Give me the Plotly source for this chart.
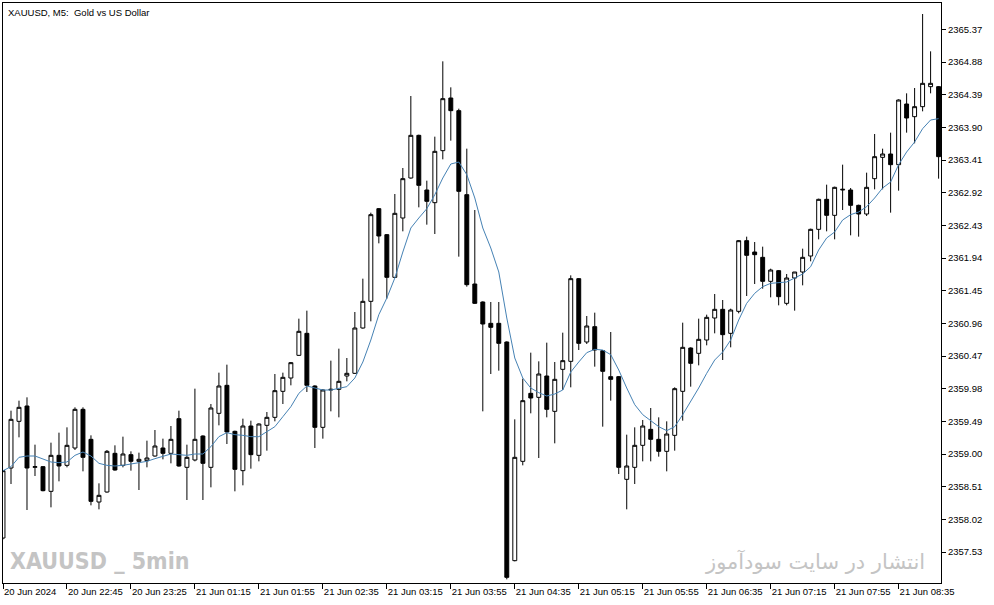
import plotly.graph_objects as go

# 5 minute bars
opens = [2357.74, 2358.79, 2359.49, 2359.72, 2358.80, 2358.81, 2358.44, 2358.98, 2358.83, 2359.09,
         2359.67, 2359.22, 2358.28, 2358.43, 2359.01, 2358.83, 2358.99, 2358.89, 2358.90, 2358.97,
         2359.09, 2359.01, 2359.53, 2358.80, 2358.91, 2359.27, 2358.80, 2359.61, 2360.03, 2359.34,
         2358.75, 2359.42, 2358.98, 2359.43, 2359.55, 2359.94, 2360.14, 2360.48, 2360.81, 2360.02,
         2359.40, 2359.96, 2359.97, 2360.17, 2360.21, 2360.89, 2361.29, 2362.68, 2362.29, 2361.65,
         2362.54, 2363.14, 2363.78, 2362.96, 2362.77, 2363.55, 2364.34, 2364.15, 2362.89, 2361.55,
         2361.28, 2360.96, 2360.96, 2360.68, 2357.40, 2358.89, 2359.91, 2359.85, 2360.17, 2359.64,
         2360.27, 2360.39, 2361.63, 2360.68, 2360.91, 2360.55, 2360.16, 2360.16, 2358.62, 2358.80,
         2359.13, 2359.37, 2359.22, 2359.04, 2359.28, 2359.94, 2360.59, 2360.51, 2360.71, 2361.04,
         2361.17, 2360.81, 2361.14, 2362.20, 2362.03, 2361.95, 2361.59, 2361.75, 2361.26, 2361.64,
         2361.73, 2361.97, 2362.37, 2362.82, 2362.58, 2362.96, 2362.96, 2362.73, 2362.60, 2363.13,
         2363.45, 2363.50, 2363.34, 2364.25, 2364.06, 2364.21, 2364.51, 2364.51]
highs = [2358.76, 2359.65, 2359.80, 2359.85, 2359.14, 2358.82, 2359.17, 2359.32, 2359.40, 2359.70,
         2359.70, 2359.28, 2358.56, 2359.06, 2359.13, 2359.26, 2359.04, 2359.02, 2359.20, 2359.36,
         2359.23, 2359.42, 2359.65, 2359.14, 2359.98, 2359.28, 2359.75, 2360.22, 2360.34, 2359.35,
         2359.53, 2359.50, 2359.46, 2359.63, 2360.20, 2360.22, 2360.38, 2361.03, 2361.15, 2360.03,
         2359.97, 2360.40, 2360.58, 2360.44, 2361.13, 2361.63, 2362.62, 2362.69, 2362.30, 2362.90,
         2363.29, 2364.37, 2363.79, 2363.10, 2363.76, 2364.89, 2364.50, 2364.18, 2363.58, 2362.66,
         2361.29, 2361.28, 2361.28, 2360.69, 2359.52, 2360.13, 2360.52, 2360.39, 2360.67, 2360.38,
         2360.82, 2361.68, 2361.64, 2361.07, 2361.12, 2360.56, 2360.83, 2360.17, 2359.29, 2359.40,
         2359.51, 2359.69, 2359.55, 2359.49, 2360.00, 2360.97, 2360.60, 2361.03, 2361.09, 2361.40,
         2361.31, 2361.18, 2362.21, 2362.26, 2362.18, 2362.11, 2361.78, 2361.76, 2361.70, 2361.73,
         2362.08, 2362.38, 2362.83, 2363.04, 2363.01, 2363.34, 2362.99, 2362.74, 2363.22, 2363.80,
         2363.58, 2363.82, 2364.32, 2364.41, 2364.49, 2365.60, 2365.04, 2364.52]
lows = [2357.72, 2358.55, 2359.25, 2358.16, 2358.67, 2358.44, 2358.20, 2358.59, 2358.80, 2359.06,
        2358.74, 2358.23, 2358.17, 2358.42, 2358.75, 2358.80, 2358.75, 2358.46, 2358.80, 2358.96,
        2358.92, 2358.86, 2358.81, 2358.31, 2358.89, 2358.31, 2358.50, 2359.43, 2359.15, 2358.44,
        2358.53, 2358.78, 2358.89, 2359.05, 2359.49, 2359.75, 2360.03, 2360.47, 2359.93, 2359.09,
        2359.23, 2359.64, 2359.55, 2360.09, 2360.20, 2360.88, 2360.99, 2362.16, 2361.33, 2361.64,
        2362.34, 2363.13, 2362.70, 2362.44, 2362.30, 2363.42, 2363.70, 2361.96, 2361.51, 2361.25,
        2359.64, 2360.20, 2360.25, 2357.12, 2357.39, 2358.83, 2359.61, 2358.94, 2359.55, 2359.16,
        2359.96, 2360.00, 2360.56, 2360.65, 2360.31, 2359.41, 2359.80, 2358.70, 2358.17, 2358.55,
        2358.89, 2358.89, 2358.96, 2358.74, 2359.05, 2359.50, 2360.01, 2360.33, 2360.63, 2360.81,
        2360.41, 2360.60, 2361.11, 2361.37, 2361.55, 2361.48, 2361.35, 2361.23, 2361.23, 2361.15,
        2361.53, 2361.89, 2362.22, 2362.34, 2362.22, 2362.66, 2362.28, 2362.26, 2362.57, 2362.97,
        2362.97, 2362.62, 2362.95, 2363.82, 2363.66, 2364.14, 2364.41, 2363.13]
closes = [2358.75, 2359.52, 2359.70, 2358.79, 2358.81, 2358.45, 2358.98, 2358.82, 2359.13, 2359.67,
          2358.95, 2358.29, 2358.38, 2359.04, 2358.76, 2359.00, 2358.89, 2358.92, 2358.94, 2359.12,
          2359.01, 2359.22, 2358.82, 2358.95, 2359.22, 2358.86, 2359.69, 2360.02, 2359.33, 2358.77,
          2359.42, 2358.99, 2359.45, 2359.55, 2359.95, 2360.15, 2360.37, 2360.84, 2360.03, 2359.40,
          2359.96, 2359.97, 2360.09, 2360.21, 2360.89, 2361.29, 2362.59, 2362.27, 2361.65, 2362.61,
          2363.13, 2363.78, 2363.03, 2362.79, 2363.54, 2364.33, 2364.15, 2362.94, 2361.54, 2361.26,
          2360.95, 2360.90, 2360.66, 2357.15, 2358.95, 2359.80, 2359.84, 2360.20, 2359.67, 2360.12,
          2360.40, 2361.63, 2360.66, 2360.92, 2360.56, 2360.24, 2360.12, 2358.80, 2358.82, 2359.13,
          2359.42, 2359.22, 2359.04, 2359.30, 2359.98, 2360.60, 2360.36, 2360.72, 2361.05, 2361.17,
          2360.79, 2361.16, 2362.20, 2361.98, 2361.99, 2361.59, 2361.76, 2361.36, 2361.64, 2361.73,
          2361.95, 2362.37, 2362.82, 2362.58, 2363.00, 2362.97, 2362.73, 2362.60, 2363.00, 2363.46,
          2363.50, 2363.34, 2364.31, 2364.04, 2364.21, 2364.56, 2364.56, 2363.46]
# moving average line as drawn on the chart
ma = [2358.75, 2358.81, 2358.95, 2358.97, 2358.97, 2358.93, 2358.88, 2358.87, 2358.88, 2358.98,
      2359.03, 2358.97, 2358.86, 2358.83, 2358.82, 2358.83, 2358.85, 2358.87, 2358.89, 2358.93,
      2358.96, 2359.00, 2358.99, 2358.98, 2359.00, 2359.00, 2359.11, 2359.26, 2359.32, 2359.29,
      2359.28, 2359.26, 2359.26, 2359.33, 2359.41, 2359.56, 2359.71, 2359.91, 2360.02, 2359.99,
      2359.96, 2359.96, 2359.98, 2360.01, 2360.14, 2360.38, 2360.71, 2361.09, 2361.34, 2361.64,
      2362.03, 2362.39, 2362.54, 2362.68, 2362.89, 2363.14, 2363.35, 2363.38, 2363.19, 2362.84,
      2362.39, 2362.09, 2361.73, 2361.04, 2360.44, 2360.14, 2359.99, 2359.92, 2359.87, 2359.90,
      2359.96, 2360.23, 2360.38, 2360.52, 2360.57, 2360.56, 2360.49, 2360.26, 2359.99, 2359.74,
      2359.59, 2359.50, 2359.41, 2359.35, 2359.41, 2359.59, 2359.78, 2359.99, 2360.21, 2360.41,
      2360.53, 2360.71, 2361.01, 2361.26, 2361.41, 2361.51, 2361.56, 2361.57, 2361.58, 2361.64,
      2361.70, 2361.81, 2362.06, 2362.24, 2362.33, 2362.51, 2362.59, 2362.63, 2362.71, 2362.84,
      2362.99, 2363.08, 2363.34, 2363.53, 2363.68, 2363.88, 2364.01, 2364.03]

time_labels = ["20 Jun 2024", "20 Jun 22:45", "20 Jun 23:25", "21 Jun 01:15", "21 Jun 01:55",
               "21 Jun 02:35", "21 Jun 03:15", "21 Jun 03:55", "21 Jun 04:35", "21 Jun 05:15",
               "21 Jun 05:55", "21 Jun 06:35", "21 Jun 07:15", "21 Jun 07:55", "21 Jun 08:35"]
price_ticks = [2357.53, 2358.02, 2358.51, 2359.00, 2359.49, 2359.98, 2360.47, 2360.96, 2361.45,
               2361.94, 2362.43, 2362.92, 2363.41, 2363.90, 2364.39, 2364.88, 2365.37]

bars = list(range(len(closes)))
label_pos = bars[::8][:len(time_labels)]

fig = go.Figure()
fig.add_trace(go.Candlestick(
    x=bars, open=opens, high=highs, low=lows, close=closes,
    increasing=dict(line=dict(color="black", width=1), fillcolor="white"),
    decreasing=dict(line=dict(color="black", width=1), fillcolor="black"),
    whiskerwidth=0, hoverinfo="skip", showlegend=False))
fig.add_trace(go.Scatter(x=bars, y=ma, mode="lines",
                         line=dict(color="#4682b4", width=1), hoverinfo="skip",
                         showlegend=False))

font = dict(family="Liberation Sans, Arial, sans-serif", size=9.5, color="black")

fig.update_layout(
    width=994, height=605,
    margin=dict(l=3, r=53, t=3, b=22),
    paper_bgcolor="white", plot_bgcolor="white",
    font=font,
    xaxis=dict(range=[0, 117.3], rangeslider=dict(visible=False),
               tickmode="array", tickvals=label_pos, ticktext=time_labels,
               ticks="outside", ticklen=5, tickcolor="black",
               ticklabelposition="outside right",
               showgrid=False, zeroline=False,
               showline=True, linecolor="black", linewidth=1, mirror=True),
    yaxis=dict(range=[2357.065, 2365.765], side="right",
               tickmode="array", tickvals=price_ticks, tickformat=".2f",
               ticks="outside", ticklen=4, tickcolor="black",
               showgrid=False, zeroline=False,
               showline=True, linecolor="black", linewidth=1, mirror=True),
    annotations=[
        dict(text="XAUUSD, M5:  Gold vs US Dollar", xref="paper", yref="paper",
             x=0.003, y=0.997, xanchor="left", yanchor="top", showarrow=False,
             font=font),
        dict(text="<b>XAUUSD _ 5min</b>", xref="paper", yref="paper",
             x=0.005, y=0.012, xanchor="left", yanchor="bottom", showarrow=False,
             font=dict(family="Liberation Sans Narrow, DejaVu Sans Condensed, Liberation Sans",
                       size=23, color="#c4c4c4")),
        dict(text="انتشار در سایت سودآموز", xref="paper", yref="paper",
             x=0.985, y=0.012, xanchor="right", yanchor="bottom", showarrow=False,
             font=dict(family="DejaVu Sans", size=21, color="#c4c4c4")),
    ],
)

fig.write_html("out.html", config={"displayModeBar": False},
               post_script="document.body.style.margin='0';")
